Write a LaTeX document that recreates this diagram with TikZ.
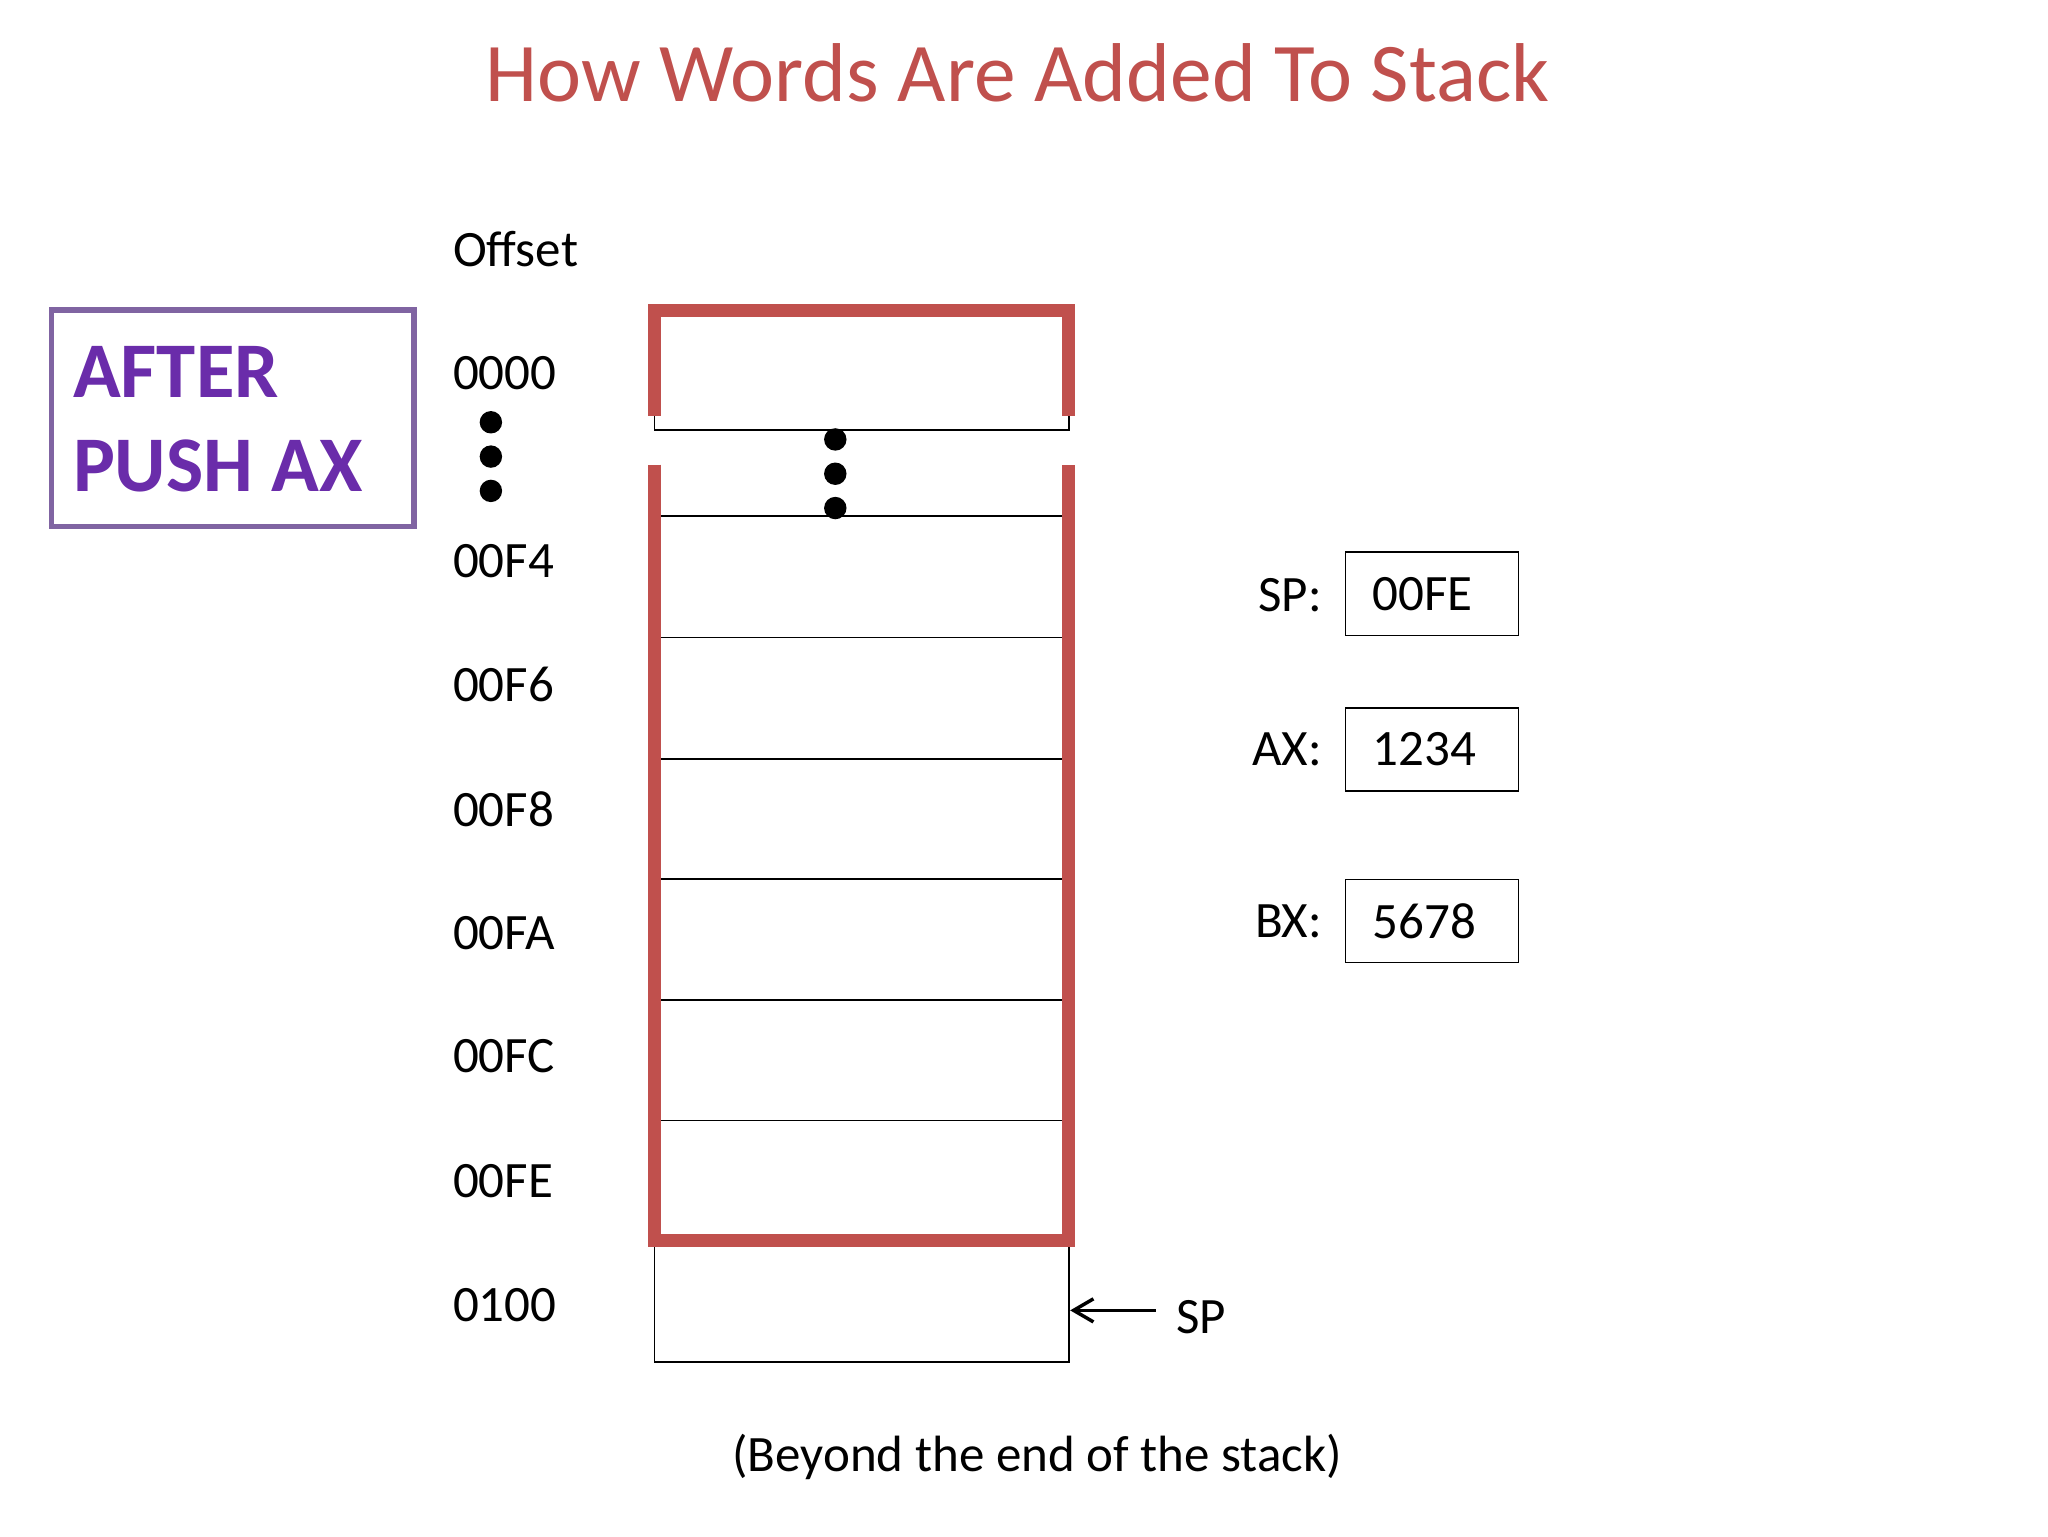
\documentclass[tikz,border=0pt]{standalone}
\usepackage{fontspec}
\usetikzlibrary{arrows.meta}
\setmainfont{Carlito}
\definecolor{sred}{RGB}{192,80,77}
\definecolor{ppl}{RGB}{128,100,162}
\definecolor{ptxt}{RGB}{106,44,170}
\begin{document}
\begin{tikzpicture}[x=0.02cm,y=-0.02cm,
  lbl/.style={anchor=west,inner sep=0,font=\fontsize{22}{24}\selectfont},
  redl/.style={draw=sred,line width=0.2cm},
  thin/.style={draw=black,line width=0.7pt},
  reg/.style={draw,line width=0.7pt,minimum width=2.62cm,minimum height=1.26cm,anchor=west,inner sep=0,font=\fontsize{22}{24}\selectfont,text width=2.3cm,align=left},
  dot/.style={fill=black,circle,inner sep=0,minimum size=0.34cm}]
\useasboundingbox (0,0) rectangle (1552,1164);
\node[font=\fontsize{36}{40}\selectfont,text=sred] (title) at (771,55) {How Words Are Added To Stack};
\node[lbl] (off) at (343,189) {Offset};
\node[lbl] (a0) at (343,283) {0000};
\node[lbl] (a4) at (343,425) {00F4};
\node[lbl] (a6) at (343,519) {00F6};
\node[lbl] (a8) at (343,613) {00F8};
\node[lbl] (aA) at (343,707) {00FA};
\node[lbl] (aC) at (343,800) {00FC};
\node[lbl] (aE) at (343,895) {00FE};
\node[lbl] (a10) at (343,989) {0100};
\foreach \y in {320,346,372} \node[dot] at (372,\y) {};
\foreach \y in {333,359,385} \node[dot] at (633,\y) {};
% top box
\draw[thin] (496,237) rectangle (810,326);
\draw[redl] (496,315) -- (496,235) -- (810,235) -- (810,315);
% main stack
\foreach \y in {391,483,575,666,758,849} \draw[thin] (500,\y) -- (806,\y);
\draw[thin] (496,940) rectangle (810,1032);
\draw[redl] (496,352) -- (496,940) -- (810,940) -- (810,352);
\node[lbl] (sp) at (891,998) {SP};
\coordinate (bx) at (811,993);
\draw[-{Straight Barb[length=0.3cm,width=0.35cm]},line width=1.5pt] (876,993) -- (bx);
% registers
\node[reg] (rsp) at (1019,450) {\hspace*{0.25cm}00FE};
\node[reg] (rax) at (1019,568) {\hspace*{0.25cm}1234};
\node[reg] (rbx) at (1019,698) {\hspace*{0.25cm}5678};
\node[font=\fontsize{22}{24}\selectfont,anchor=east] at (1008,451) {SP:};
\node[font=\fontsize{22}{24}\selectfont,anchor=east] at (1008,568) {AX:};
\node[font=\fontsize{22}{24}\selectfont,anchor=east] at (1008,698) {BX:};
\node[font=\fontsize{22}{24}\selectfont] (beyond) at (786,1104) {(Beyond the end of the stack)};
% after box
\draw[draw=ppl,line width=2.5pt] (39,235) rectangle (314,399);
\node[anchor=west,inner sep=0,text=ptxt,font=\bfseries\fontsize{34}{36}\selectfont] at (55,282) {AFTER};
\node[anchor=west,inner sep=0,text=ptxt,font=\bfseries\fontsize{34}{36}\selectfont] at (55,353) {PUSH AX};
\end{tikzpicture}
\end{document}
